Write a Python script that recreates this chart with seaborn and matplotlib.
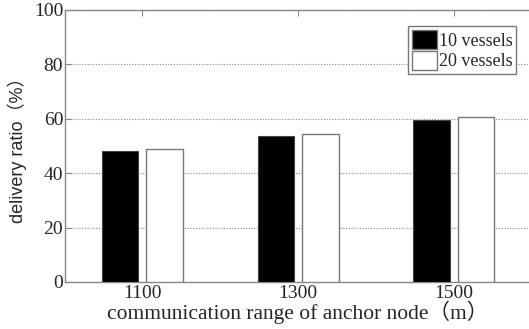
import matplotlib
matplotlib.use("Agg")
import matplotlib.pyplot as plt
import seaborn as sns
import pandas as pd
from matplotlib.patches import Patch

ranges = ["1100", "1300", "1500"]
series = ["10 vessels", "20 vessels"]
vessels10 = [48.3, 53.7, 59.6]
vessels20 = [48.8, 54.2, 60.8]
yticks = [0, 20, 40, 60, 80, 100]

df = pd.DataFrame({
    "range": ranges * 2,
    "series": [series[0]] * 3 + [series[1]] * 3,
    "value": vessels10 + vessels20,
})

sns.set_style("white")
plt.rcParams["font.family"] = ["Liberation Serif", "Noto Sans CJK SC"]

fig = plt.figure(figsize=(5.29, 3.29), dpi=100)
ax = fig.add_axes([0.122, 0.143, 0.883, 0.827])

sns.barplot(data=df, x="range", y="value", hue="series", order=ranges,
            hue_order=series, palette=["black", "white"], width=0.572, gap=0.18,
            saturation=1, ax=ax, legend=False, zorder=3)

for i, p in enumerate(ax.patches):
    if i < 3:
        p.set_edgecolor("#444444")
        p.set_linewidth(0.8)
    else:
        p.set_edgecolor("#777777")
        p.set_linewidth(1.0)

ax.set_xlim(-0.5, 2.5)
ax.set_ylim(0, 100)
ax.set_yticks(yticks)
ax.set_yticklabels([str(v) for v in yticks])
ax.yaxis.grid(True, linestyle=(0, (1, 1.5)), color="#888888", linewidth=0.8, zorder=0)
ax.set_axisbelow(True)

for s in ["left", "bottom", "top"]:
    ax.spines[s].set_color("#888888")
    ax.spines[s].set_linewidth(1.0)
ax.spines["right"].set_visible(False)

ax.tick_params(axis="both", direction="in", length=4, color="#888888",
               labelsize=14, top=True, left=True, right=False)
ax.tick_params(axis="x", pad=2)
ax.tick_params(axis="y", pad=1)

ax.set_xlabel("communication range of anchor node（m）", fontsize=15.5, labelpad=-1,
              family=["Liberation Serif", "Noto Sans CJK SC"])
ax.set_ylabel("delivery ratio（%）", fontsize=13, labelpad=5,
              family=["Liberation Sans", "Noto Sans CJK SC"])

handles = [Patch(facecolor="black", edgecolor="#777777", label=series[0]),
           Patch(facecolor="white", edgecolor="#777777", label=series[1])]
leg = ax.legend(handles=handles, loc="upper right", bbox_to_anchor=(0.967, 0.94),
                fontsize=13, frameon=True, fancybox=False, framealpha=1,
                edgecolor="#777777", handlelength=1.4, handleheight=1.3,
                handletextpad=0.1, borderpad=0.2, labelspacing=0.05,
                borderaxespad=0)
leg.get_frame().set_linewidth(1.0)

fig.savefig("out.png", dpi=100)
